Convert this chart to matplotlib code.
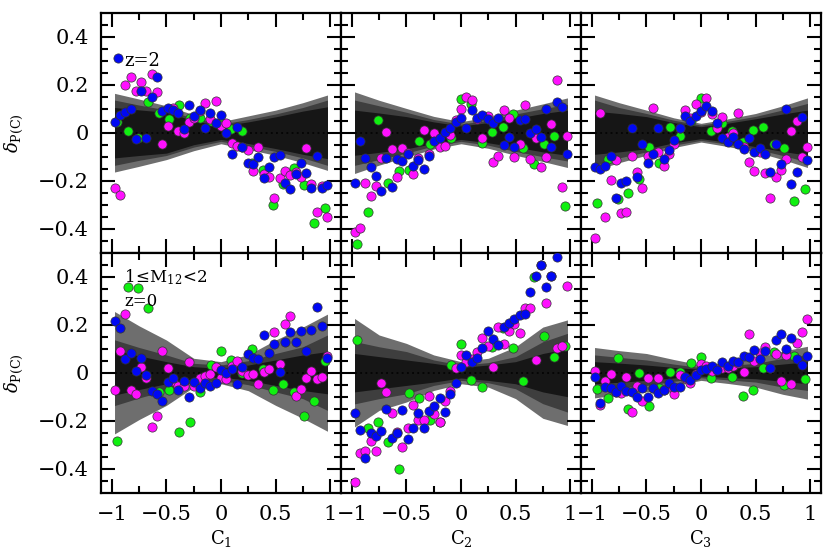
import numpy as np
import matplotlib
matplotlib.use("Agg")
import matplotlib.pyplot as plt
from matplotlib.ticker import FixedLocator, FixedFormatter

plt.rcParams['font.family'] = ['DejaVu Serif']
plt.rcParams['mathtext.fontset'] = 'dejavuserif'

# ---------------- data ----------------
# bin centres of the blue/magenta series (41 bins) and green series (21 bins)
X41 = [-0.976, -0.927, -0.878, -0.829, -0.780, -0.732, -0.683, -0.634, -0.585, -0.537,
       -0.488, -0.439, -0.390, -0.341, -0.293, -0.244, -0.195, -0.146, -0.098, -0.049,
       0.000, 0.049, 0.098, 0.146, 0.195, 0.244, 0.293, 0.341, 0.390, 0.439,
       0.488, 0.537, 0.585, 0.634, 0.683, 0.732, 0.780, 0.829, 0.878, 0.927, 0.976]
X21 = [-0.952, -0.857, -0.762, -0.667, -0.571, -0.476, -0.381, -0.286, -0.190, -0.095,
       0.000, 0.095, 0.190, 0.286, 0.381, 0.476, 0.571, 0.667, 0.762, 0.857, 0.952]

NAN = float('nan')

# top row (z=2): C1, C2, C3
blue_z2_c1 = [0.043, 0.075, 0.086, 0.097, -0.025, 0.172, -0.022, 0.147, 0.233, 0.090,
              0.101, 0.094, 0.083, 0.014, 0.115, 0.069, 0.094, 0.019, 0.083, 0.042,
              0.074, 0.000, -0.090, 0.022, -0.058, -0.128, -0.131, -0.103, -0.188, -0.144,
              -0.103, -0.093, -0.208, -0.235, -0.172, -0.128, -0.169, -0.229, -0.097, -0.229, -0.218]
mag_z2_c1 = [-0.229, -0.260, 0.199, 0.231, 0.174, 0.213, 0.175, 0.244, 0.168, -0.047,
             0.028, 0.101, 0.008, -0.003, 0.043, 0.060, 0.090, 0.122, 0.057, 0.132,
             0.028, 0.039, -0.042, -0.054, -0.060, -0.072, -0.160, -0.058, -0.170, -0.183,
             -0.271, -0.188, -0.160, -0.176, -0.165, -0.183, -0.063, -0.215, -0.329, -0.221, -0.350]
grn_z2_c1 = [0.046, 0.007, -0.021, 0.129, 0.083, 0.056, 0.115, 0.060, 0.063, 0.050,
             0.040, 0.015, 0.008, -0.125, -0.156, -0.301, -0.214, -0.146, -0.218, -0.378, -0.313]

blue_z2_c2 = [-0.208, -0.033, -0.104, -0.142, -0.179, -0.243, -0.107, -0.228, -0.111, -0.118,
              -0.089, -0.138, -0.114, -0.151, -0.097, -0.035, -0.021, 0.001, 0.018, 0.043,
              0.060, 0.021, 0.094, 0.063, 0.074, 0.056, 0.039, 0.060, -0.051, -0.017,
              -0.058, 0.053, 0.057, 0.000, 0.014, -0.017, 0.099, -0.061, 0.129, 0.106, -0.090]
mag_z2_c2 = [-0.415, -0.396, -0.208, -0.264, -0.221, -0.107, 0.001, -0.068, -0.186, -0.063,
             -0.083, -0.172, -0.104, 0.011, -0.089, -0.003, -0.058, -0.056, -0.010, 0.053,
             0.097, 0.147, 0.136, 0.056, -0.024, 0.071, -0.124, -0.096, 0.094, 0.060,
             -0.100, -0.047, 0.115, -0.111, -0.021, -0.142, -0.100, 0.035, 0.219, -0.228, -0.013]
grn_z2_c2 = [-0.465, -0.332, 0.053, -0.208, -0.160, -0.156, -0.033, -0.047, -0.047, -0.020,
             0.142, 0.118, -0.044, 0.003, 0.022, 0.078, -0.063, -0.132, -0.047, -0.014, -0.306]

blue_z2_c3 = [-0.144, -0.151, -0.138, -0.096, -0.274, -0.211, -0.201, 0.018, -0.183, -0.047,
              -0.128, -0.089, 0.018, -0.111, -0.072, -0.031, 0.018, 0.071, 0.050, 0.071,
              0.092, 0.111, 0.090, 0.039, -0.024, -0.040, -0.017, -0.049, -0.068, -0.024,
              -0.079, -0.063, -0.089, -0.163, -0.047, -0.132, 0.097, -0.215, -0.163, 0.064, -0.114]
mag_z2_c3 = [-0.440, 0.081, -0.350, -0.197, -0.114, -0.336, -0.329, -0.097, -0.163, -0.229,
             -0.097, 0.104, -0.082, -0.138, -0.090, -0.049, 0.020, 0.094, 0.060, 0.119,
             0.085, 0.143, 0.076, 0.021, 0.067, -0.017, -0.003, 0.081, -0.060, -0.124,
             -0.160, -0.079, -0.169, -0.271, -0.183, -0.156, -0.111, 0.008, 0.050, -0.100, -0.058]
grn_z2_c3 = [-0.294, -0.110, -0.278, -0.250, -0.193, -0.061, -0.128, 0.022, -0.014, 0.050,
             0.146, 0.008, 0.039, 0.008, -0.038, 0.011, 0.022, -0.047, -0.063, -0.285, -0.235]

# bottom row (z=0, 1<=M12<2): C1, C2, C3
blue_z0_c1 = [0.215, 0.188, 0.057, 0.083, 0.008, 0.060, -0.010, -0.075, -0.090, -0.118,
              -0.040, -0.021, -0.072, -0.033, -0.100, -0.038, -0.065, -0.042, -0.054, -0.044,
              0.011, -0.003, 0.014, -0.047, 0.025, 0.078, 0.063, 0.057, 0.157, 0.083,
              0.118, 0.001, 0.129, 0.168, 0.126, 0.174, 0.092, 0.178, 0.272, 0.194, 0.060]
mag_z0_c1 = [-0.072, 0.090, 0.244, -0.072, -0.090, 0.022, -0.021, -0.228, -0.181, 0.090,
             0.018, -0.035, -0.054, -0.054, 0.043, -0.056, -0.024, -0.014, -0.006, 0.022,
             -0.021, -0.026, 0.028, 0.050, 0.008, -0.010, -0.007, -0.047, 0.001, 0.014,
             0.168, 0.036, 0.201, 0.236, -0.096, -0.068, -0.021, 0.008, -0.028, -0.017, 0.071]
grn_z0_c1 = [-0.285, 0.356, 0.351, 0.271, -0.079, -0.072, -0.249, -0.204, -0.079, 0.032,
             0.090, 0.053, 0.000, 0.097, 0.015, -0.072, -0.047, -0.082, -0.179, -0.118, 0.050]

blue_z0_c2 = [-0.167, -0.239, -0.357, -0.250, -0.264, -0.242, -0.151, -0.271, -0.253, -0.156,
              -0.276, -0.232, -0.167, -0.232, -0.158, -0.138, -0.104, -0.163, -0.090, -0.044,
              0.025, 0.074, 0.043, 0.060, 0.104, 0.174, 0.142, 0.114, 0.189, 0.208,
              0.224, 0.242, 0.244, 0.335, 0.404, 0.450, 0.356, 0.404, 0.483, NAN, NAN]
mag_z0_c2 = [-0.457, -0.333, -0.325, -0.285, -0.326, -0.042, -0.079, -0.167, -0.249, -0.308,
             -0.229, -0.135, -0.197, -0.197, -0.097, -0.172, -0.207, -0.117, -0.075, 0.018,
             0.074, 0.043, 0.057, 0.085, 0.143, 0.113, 0.025, 0.189, 0.118, 0.174,
             0.201, 0.164, 0.268, 0.271, 0.053, 0.450, 0.292, 0.404, 0.101, 0.111, 0.363]
grn_z0_c2 = [0.136, -0.232, -0.204, -0.290, -0.401, -0.083, -0.107, -0.197, -0.207, 0.032,
             0.118, -0.031, -0.061, 0.108, 0.185, 0.101, -0.035, 0.400, 0.153, 0.067, 0.111]

blue_z0_c3 = [-0.017, -0.128, -0.061, -0.065, -0.079, -0.056, -0.075, -0.079, -0.100, -0.065,
              -0.100, -0.063, -0.083, -0.072, -0.042, -0.058, -0.058, -0.017, -0.031, -0.010,
              0.011, 0.015, 0.028, 0.011, 0.043, 0.029, 0.049, 0.043, 0.069, 0.064,
              0.094, 0.056, 0.090, 0.021, 0.136, 0.160, 0.097, 0.143, 0.057, 0.032, 0.071]
mag_z0_c3 = [0.008, -0.135, -0.033, -0.006, -0.079, -0.086, -0.019, -0.165, -0.056, -0.118,
             -0.024, -0.063, -0.024, -0.070, -0.058, -0.089, -0.010, -0.020, -0.044, -0.005,
             0.035, 0.028, 0.008, 0.015, 0.021, 0.021, 0.028, 0.040, 0.001, 0.161,
             0.050, 0.081, 0.106, 0.020, 0.076, -0.033, 0.074, -0.047, 0.122, 0.171, 0.222]
grn_z0_c3 = [-0.068, -0.104, 0.060, -0.153, -0.003, -0.139, -0.063, 0.001, 0.001, 0.039,
             0.064, -0.021, 0.030, -0.019, -0.096, -0.072, 0.021, 0.087, -0.051, 0.069, -0.026]

# envelope half-widths of the three shaded bands at these C nodes
BAND_X = [-0.976, -0.75, -0.5, -0.25, 0.0, 0.25, 0.5, 0.75, 0.976]
band_outer = [
    [0.164, 0.140, 0.112, 0.075, 0.046, 0.070, 0.094, 0.125, 0.157],   # z2 C1
    [0.170, 0.135, 0.101, 0.068, 0.046, 0.065, 0.094, 0.120, 0.145],   # z2 C2
    [0.157, 0.125, 0.094, 0.062, 0.039, 0.058, 0.080, 0.112, 0.145],   # z2 C3
    [0.255, 0.195, 0.136, 0.060, 0.046, 0.075, 0.136, 0.190, 0.244],   # z0 C1
    [0.226, 0.157, 0.122, 0.074, 0.046, 0.060, 0.108, 0.190, 0.220],   # z0 C2
    [0.105, 0.092, 0.080, 0.055, 0.032, 0.045, 0.060, 0.090, 0.110],   # z0 C3
]
band_mid = [
    [0.136, 0.115, 0.095, 0.060, 0.036, 0.055, 0.078, 0.105, 0.136],
    [0.136, 0.112, 0.085, 0.055, 0.036, 0.052, 0.078, 0.100, 0.118],
    [0.136, 0.105, 0.080, 0.052, 0.032, 0.048, 0.068, 0.095, 0.122],
    [0.137, 0.105, 0.074, 0.039, 0.032, 0.050, 0.080, 0.108, 0.157],
    [0.130, 0.108, 0.088, 0.053, 0.032, 0.042, 0.067, 0.129, 0.164],
    [0.074, 0.064, 0.053, 0.036, 0.021, 0.030, 0.039, 0.060, 0.074],
]
band_inner = [
    [0.105, 0.095, 0.085, 0.050, 0.028, 0.045, 0.066, 0.090, 0.108],
    [0.094, 0.082, 0.067, 0.045, 0.028, 0.042, 0.060, 0.080, 0.094],
    [0.090, 0.080, 0.067, 0.042, 0.025, 0.040, 0.058, 0.078, 0.094],
    [0.093, 0.070, 0.046, 0.025, 0.018, 0.032, 0.053, 0.074, 0.088],
    [0.080, 0.067, 0.053, 0.039, 0.022, 0.032, 0.046, 0.080, 0.100],
    [0.046, 0.040, 0.032, 0.022, 0.014, 0.020, 0.025, 0.036, 0.046],
]

blue_sets = [blue_z2_c1, blue_z2_c2, blue_z2_c3, blue_z0_c1, blue_z0_c2, blue_z0_c3]
mag_sets = [mag_z2_c1, mag_z2_c2, mag_z2_c3, mag_z0_c1, mag_z0_c2, mag_z0_c3]
grn_sets = [grn_z2_c1, grn_z2_c2, grn_z2_c3, grn_z0_c1, grn_z0_c2, grn_z0_c3]

XTICKS = [-1, -0.5, 0, 0.5, 1]
XTICKLABELS = ['\u22121', '\u22120.5', '0', '0.5', '1']
YTICKS = [-0.4, -0.2, 0, 0.2, 0.4]
YTICKLABELS = ['\u22120.4', '\u22120.2', '0', '0.2', '0.4']
XLABELS = [r'$\mathrm{C}_1$', r'$\mathrm{C}_2$', r'$\mathrm{C}_3$']
YLABEL = r'$\delta_{\mathrm{P(C)}}$'

C_BLUE = '#0008f4'
C_MAG = '#ff10ff'
C_GRN = '#10f010'
C_OUT = '#6e6e6e'
C_MID = '#3e3e3e'
C_IN = '#161616'

# ---------------- figure ----------------
W, H = 830, 556
fig = plt.figure(figsize=(W / 100, H / 100), dpi=100)
left0, top0, pw, ph = 101, 12.7, 240, 240

axes = []
for r in range(2):
    for c in range(3):
        ax = fig.add_axes([(left0 + c * pw) / W, 1 - (top0 + (r + 1) * ph) / H, pw / W, ph / H])
        axes.append(ax)

bx = np.array(BAND_X)
for i, ax in enumerate(axes):
    r, c = divmod(i, 3)
    o = np.array(band_outer[i]); m = np.array(band_mid[i]); n = np.array(band_inner[i])
    ax.fill_between(bx, -o, o, color=C_OUT, lw=0, zorder=1)
    ax.fill_between(bx, -m, m, color=C_MID, lw=0, zorder=1.1)
    ax.fill_between(bx, -n, n, color=C_IN, lw=0, zorder=1.2)
    ax.plot([bx[0], bx[-1]], [0, 0], color='black', lw=1.1, ls=(0, (1.2, 2.2)), zorder=1.5)

    kw = dict(s=44, edgecolors='#333333', linewidths=0.5, zorder=3)
    ax.scatter(X21, grn_sets[i], c=C_GRN, **kw)
    ax.scatter(X41, mag_sets[i], c=C_MAG, **kw)
    ax.scatter(X41, blue_sets[i], c=C_BLUE, **kw)

    ax.set_xlim(-1.1, 1.1)
    ax.set_ylim(-0.5, 0.5)
    ax.xaxis.set_major_locator(FixedLocator(XTICKS))
    ax.xaxis.set_minor_locator(FixedLocator([-1, -0.75, -0.5, -0.25, 0, 0.25, 0.5, 0.75, 1]))
    ax.yaxis.set_major_locator(FixedLocator(YTICKS))
    ax.yaxis.set_minor_locator(FixedLocator([v / 100 for v in range(-45, 50, 5)]))
    ax.tick_params(which='both', direction='in', top=True, right=True, width=1.5, colors='black')
    ax.tick_params(which='major', length=10, labelsize=15, pad=9)
    ax.tick_params(which='minor', length=5)
    for sp in ax.spines.values():
        sp.set_linewidth(1.6)

    if r == 1:
        ax.xaxis.set_major_formatter(FixedFormatter(XTICKLABELS))
        ax.set_xlabel(XLABELS[c], fontsize=13, labelpad=3)
    else:
        ax.set_xticklabels([])
    if c == 0:
        ax.yaxis.set_major_formatter(FixedFormatter(YTICKLABELS))
    else:
        ax.set_yticklabels([])

# y labels (one per row)
for r in range(2):
    fig.text(14 / W, 1 - (top0 + ph * (r + 0.5)) / H, YLABEL, rotation=90,
             fontsize=13, ha='center', va='center')

# annotations
axes[0].scatter([-0.94], [0.31], s=44, c=C_BLUE, edgecolors='#333333', linewidths=0.5, zorder=4)
axes[0].text(-0.89, 0.30, 'z=2', fontsize=13, va='center', ha='left')
axes[3].text(-0.89, 0.40, r'$1\!\leq\!\mathrm{M}_{12}\!<\!2$', fontsize=12, va='center', ha='left')
axes[3].text(-0.89, 0.295, 'z=0', fontsize=12, va='center', ha='left')

fig.savefig('out.png', dpi=100)
